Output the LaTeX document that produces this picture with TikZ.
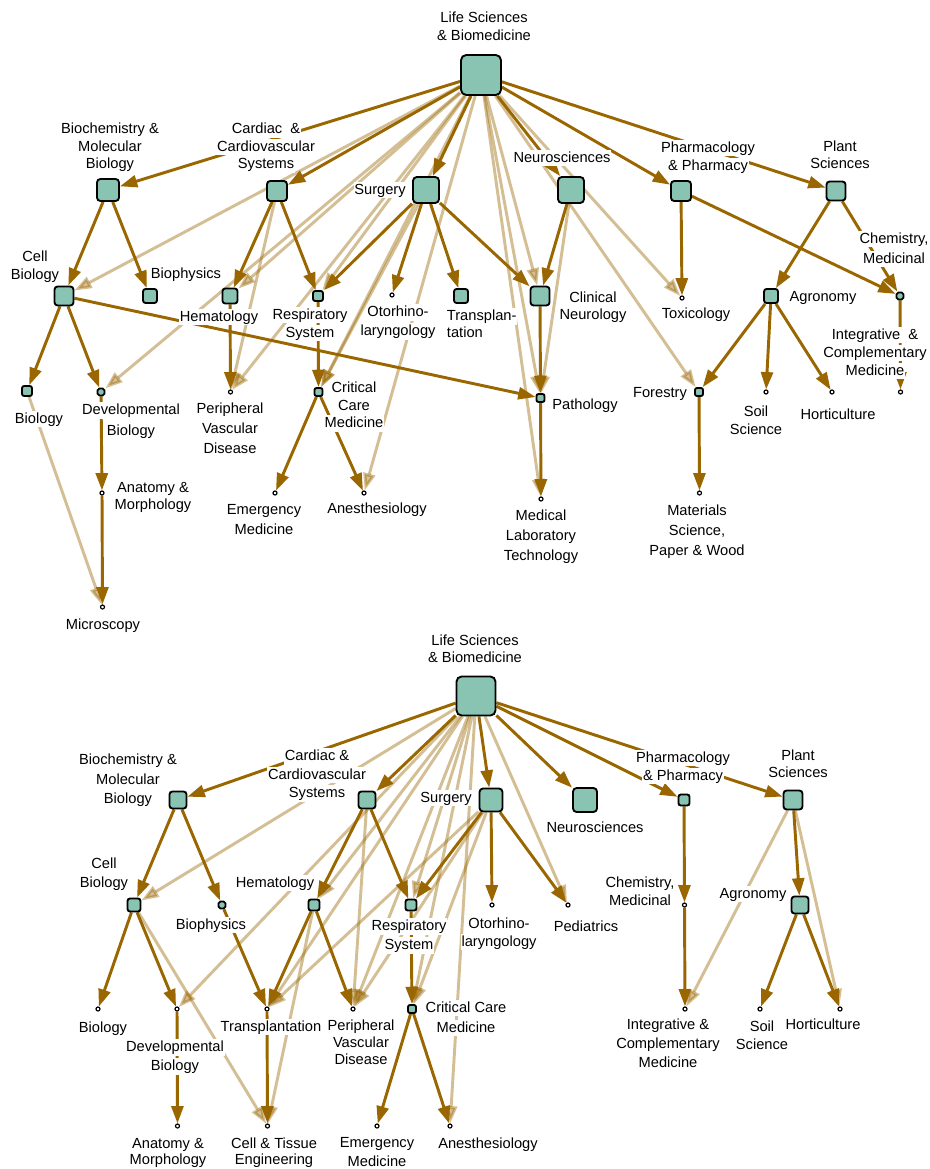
\documentclass[tikz,border=0pt]{standalone}
\usepackage{fontspec}
\setmainfont{Liberation Sans}
\usetikzlibrary{arrows.meta}
\definecolor{darkc}{RGB}{153,102,0}
\definecolor{boxc}{RGB}{137,196,179}
\pgfdeclarelayer{bg}
\pgfsetlayers{bg,main}
\newcommand{\wb}[1]{{\setlength{\fboxsep}{0.5pt}\colorbox{white}{\rule[-2.6pt]{0pt}{11.4pt}#1}}}
\tikzset{
  bx/.style={rectangle, draw=black, line width=1.4pt, fill=boxc, inner sep=0pt,
    minimum size={(#1-2)*0.75pt}, rounded corners={(1+#1*0.1)*0.75pt}},
  ci/.style={circle, draw=black, fill=white, line width=0.9pt, minimum size=3pt, inner sep=0pt},
  dk/.style={draw=darkc, line width=2.2pt, -{Triangle[length=13pt,width=9pt]}},
  lt/.style={draw=darkc, opacity=0.42, line width=2.2pt, -{Triangle[length=13pt,width=9pt]}},
  lab/.style={inner sep=0pt, align=center, font=\fontsize{11pt}{#1pt}\selectfont},
  lab/.default=13.5
}
\begin{document}
\lineskiplimit=-1000pt
\lineskip=0pt
\begin{tikzpicture}[x=0.75pt,y=-0.75pt]
\begin{pgfonlayer}{bg}
\fill[white] (0,0) rectangle (929,1169);
\end{pgfonlayer}
\useasboundingbox (0,0) rectangle (929,1169);

% ---------------- top labels
\node[lab] (tR) at (484,27) {\wb{Life Sciences}\\\wb{\& Biomedicine}};
\node[lab=13.1] (tBMB) at (110,147) {\wb{Biochemistry \&}\\\wb{Molecular}\\\wb{Biology}};
\node[lab=13.1] (tCCS) at (266,147) {\wb{Cardiac\ \ \&}\\\wb{Cardiovascular}\\\wb{Systems}};
\node[lab] (tSUR) at (380,190) {\wb{Surgery}};
\node[lab] (tNEU) at (562,158) {\wb{Neurosciences}};
\node[lab] (tPHA) at (708,157) {\wb{Pharmacology}\\\wb{\& Pharmacy}};
\node[lab=13.1] (tPLS) at (840,156) {\wb{Plant}\\\wb{Sciences}};
\node[lab=15] (tCHM) at (894,249) {\wb{Chemistry,}\\\wb{Medicinal}};
\node[lab] (tCEB) at (35,266) {\wb{Cell}\\\wb{Biology}};
\node[lab] (tBPH) at (186,274) {\wb{Biophysics}};
\node[lab] (tHEM) at (219,317) {\wb{Hematology}};
\node[lab] (tRES) at (310,324) {\wb{Respiratory}\\\wb{System}};
\node[lab=14.2] (tOTO) at (398,322) {\wb{Otorhino-}\\\wb{laryngology}};
\node[lab=12.8, align=left, anchor=west] (tTRA) at (446,325) {\wb{Transplan-}\\\wb{tation}};
\node[lab=12.8] (tCLN) at (593,307) {\wb{Clinical}\\\wb{Neurology}};
\node[lab] (tTOX) at (696,314) {\wb{Toxicology}};
\node[lab] (tAGR) at (823,297) {\wb{Agronomy}};
\node[lab] (tICM) at (875,353) {\wb{Integrative\ \ \&}\\\wb{Complementary}\\\wb{Medicine}};
\node[lab] (tBIO) at (39,419) {\wb{Biology}};
\node[lab=15.7] (tDEV) at (131,421) {\wb{Developmental}\\\wb{Biology}};
\node[lab=15] (tPVD) at (230,429) {\wb{Peripheral}\\\wb{Vascular}\\\wb{Disease}};
\node[lab=13.1] (tCCM) at (354,406) {\wb{Critical}\\\wb{Care}\\\wb{Medicine}};
\node[lab] (tPAT) at (585,405) {\wb{Pathology}};
\node[lab] (tFOR) at (660,393) {\wb{Forestry}};
\node[lab] (tSOI) at (756,421) {\wb{Soil}\\\wb{Science}};
\node[lab] (tHOR) at (838,415) {\wb{Horticulture}};
\node[lab=12.8] (tANA) at (153,497) {\wb{Anatomy \&}\\\wb{Morphology}};
\node[lab=15] (tEME) at (264,520) {\wb{Emergency}\\\wb{Medicine}};
\node[lab] (tANE) at (377,509) {\wb{Anesthesiology}};
\node[lab=15] (tMLT) at (541,536) {\wb{Medical}\\\wb{Laboratory}\\\wb{Technology}};
\node[lab=15] (tMAT) at (697,531) {\wb{Materials}\\\wb{Science,}\\\wb{Paper \& Wood}};
\node[lab] (tMIC) at (103,625) {\wb{Microscopy}};

% ---------------- bottom labels
\node[lab=12.4] (tR2) at (475,650) {\wb{Life Sciences}\\\wb{\& Biomedicine}};
\node[lab=14.6] (tBMB2) at (128,780) {\wb{Biochemistry \&}\\\wb{Molecular}\\\wb{Biology}};
\node[lab=13.9] (tCCS2) at (317,775) {\wb{Cardiac \&}\\\wb{Cardiovascular}\\\wb{Systems}};
\node[lab] (tSUR2) at (446,798) {\wb{Surgery}};
\node[lab] (tNEU2) at (595,828) {\wb{Neurosciences}};
\node[lab] (tPHA2) at (683,767) {\wb{Pharmacology}\\\wb{\& Pharmacy}};
\node[lab=12.8] (tPLS2) at (798,765) {\wb{Plant}\\\wb{Sciences}};
\node[lab=14.2] (tCEB2) at (104,874) {\wb{Cell}\\\wb{Biology}};
\node[lab] (tHEM2) at (275,883) {\wb{Hematology}};
\node[lab] (tBPH2) at (211,925) {\wb{Biophysics}};
\node[lab=14.6] (tRES2) at (409,936) {\wb{Respiratory}\\\wb{System}};
\node[lab] (tOTO2) at (499,933) {\wb{Otorhino-}\\\wb{laryngology}};
\node[lab] (tPED) at (586,927) {\wb{Pediatrics}};
\node[lab] (tCHM2) at (640,892) {\wb{Chemistry,}\\\wb{Medicinal}};
\node[lab] (tAGR2) at (753,894) {\wb{Agronomy}};
\node[lab] (tBIO2) at (103,1028) {\wb{Biology}};
\node[lab=14.2] (tDEV2) at (175,1057) {\wb{Developmental}\\\wb{Biology}};
\node[lab] (tTRA2) at (271,1027) {\wb{Transplantation}};
\node[lab=12.8] (tPVD2) at (361,1043) {\wb{Peripheral}\\\wb{Vascular}\\\wb{Disease}};
\node[lab=15] (tCCM2) at (466,1018) {\wb{Critical Care}\\\wb{Medicine}};
\node[lab=14.2] (tICM2) at (668,1044) {\wb{Integrative \&}\\\wb{Complementary}\\\wb{Medicine}};
\node[lab] (tSOI2) at (762,1036) {\wb{Soil}\\\wb{Science}};
\node[lab] (tHOR2) at (823,1025) {\wb{Horticulture}};
\node[lab=12.2] (tANA2) at (168,1152) {\wb{Anatomy \&}\\\wb{Morphology}};
\node[lab=12.2] (tCTE) at (274,1152) {\wb{Cell \& Tissue}\\\wb{Engineering}};
\node[lab=14.2] (tEME2) at (377,1153) {\wb{Emergency}\\\wb{Medicine}};
\node[lab] (tANE2) at (488,1144) {\wb{Anesthesiology}};

% ---------------- top graph nodes
\node[bx=42] (R) at (481,75) {};
\node[bx=24] (BMB) at (108,190) {};
\node[bx=22] (CCS) at (277,191) {};
\node[bx=28] (SUR) at (426,190) {};
\node[bx=28] (NEU) at (571,190) {};
\node[bx=22] (PHA) at (681,191) {};
\node[bx=21] (PLS) at (836,191) {};
\node[bx=21] (CEB) at (64,296) {};
\node[bx=16] (BPH) at (150,296) {};
\node[bx=17] (HEM) at (230,296) {};
\node[bx=12] (RES) at (318,296) {};
\node[ci] (OTO) at (392,295) {};
\node[bx=16] (TRA) at (461,296) {};
\node[bx=21] (CLN) at (540,296) {};
\node[ci] (TOX) at (682,298) {};
\node[bx=16] (AGR) at (771,296) {};
\node[bx=9] (CHM) at (900,296) {};
\node[bx=12] (BIO) at (27,391) {};
\node[bx=9] (DEV) at (101,392) {};
\node[ci] (PVD) at (230.5,392) {};
\node[bx=10] (CCM) at (318.5,392) {};
\node[bx=10] (PAT) at (540.5,398) {};
\node[bx=10] (FOR) at (699,392) {};
\node[ci] (SOI) at (766,392) {};
\node[ci] (HOR) at (832,392) {};
\node[ci] (ICM) at (900.5,392) {};
\node[ci] (ANA) at (102,493) {};
\node[ci] (EME) at (275,493) {};
\node[ci] (ANE) at (364,493) {};
\node[ci] (MLT) at (541,499) {};
\node[ci] (MAT) at (699.5,493) {};
\node[ci] (MIC) at (102.5,607) {};

% ---------------- bottom graph nodes
\node[bx=41] (R2) at (476,696) {};
\node[bx=19] (BMB2) at (178,800) {};
\node[bx=19] (CCS2) at (367,800) {};
\node[bx=25] (SUR2) at (491,800) {};
\node[bx=26] (NEU2) at (585,800) {};
\node[bx=13] (PHA2) at (684,800) {};
\node[bx=21] (PLS2) at (793,800) {};
\node[bx=15] (CEB2) at (134,905) {};
\node[bx=9] (BPH2) at (222,905) {};
\node[bx=13] (HEM2) at (314,905) {};
\node[bx=13] (RES2) at (411,905) {};
\node[ci] (OTO2) at (492,905) {};
\node[ci] (PED) at (568,905) {};
\node[ci] (CHM2) at (684.5,905) {};
\node[bx=19] (AGR2) at (800,905) {};
\node[ci] (BIO2) at (98,1009) {};
\node[ci] (DEV2) at (177,1009) {};
\node[ci] (TRA2) at (267,1009) {};
\node[ci] (PVD2) at (353,1009) {};
\node[bx=10] (CCM2) at (412,1009) {};
\node[ci] (ICM2) at (685,1009) {};
\node[ci] (SOI2) at (760,1009) {};
\node[ci] (HOR2) at (840,1009) {};
\node[ci] (ANA2) at (177.5,1126) {};
\node[ci] (CTE) at (267.5,1126) {};
\node[ci] (EME2) at (377,1126) {};
\node[ci] (ANE2) at (450,1126) {};

% ---------------- edges
\begin{pgfonlayer}{bg}
\foreach \a/\b in {R/CEB,R/DEV,R/HEM,R/RES,R/PVD,R/CCM,R/ANE,R/CLN,R/PAT,R/MLT,R/TOX,R/FOR,
  CCS/PVD,SUR/CCM,NEU/PAT,BIO/MIC,
  R2/CEB2,R2/DEV2,R2/HEM2,R2/TRA2,R2/PVD2,R2/RES2,R2/CCM2,R2/ANE2,R2/PED,
  CCS2/PVD2,SUR2/TRA2,SUR2/PVD2,SUR2/CCM2,CEB2/CTE,HEM2/CTE,PLS2/ICM2,PLS2/HOR2}
  \draw[lt] (\a) -- (\b);
\foreach \a/\b in {R/BMB,R/CCS,R/SUR,R/NEU,R/PHA,R/PLS,BMB/CEB,BMB/BPH,CCS/HEM,CCS/RES,
  SUR/RES,SUR/OTO,SUR/TRA,SUR/CLN,NEU/CLN,PHA/TOX,PHA/CHM,PLS/AGR,PLS/CHM,
  CEB/BIO,CEB/DEV,CEB/PAT,HEM/PVD,RES/CCM,CLN/PAT,AGR/FOR,AGR/SOI,AGR/HOR,CHM/ICM,
  DEV/ANA,CCM/EME,CCM/ANE,PAT/MLT,FOR/MAT,ANA/MIC,
  R2/BMB2,R2/CCS2,R2/SUR2,R2/NEU2,R2/PHA2,R2/PLS2,BMB2/CEB2,BMB2/BPH2,CCS2/HEM2,CCS2/RES2,
  SUR2/RES2,SUR2/OTO2,SUR2/PED,PHA2/CHM2,CHM2/ICM2,PLS2/AGR2,CEB2/BIO2,CEB2/DEV2,
  BPH2/TRA2,HEM2/TRA2,HEM2/PVD2,RES2/CCM2,DEV2/ANA2,TRA2/CTE,CCM2/EME2,CCM2/ANE2,
  AGR2/SOI2,AGR2/HOR2}
  \draw[dk] (\a) -- (\b);
\end{pgfonlayer}
\end{tikzpicture}
\end{document}
